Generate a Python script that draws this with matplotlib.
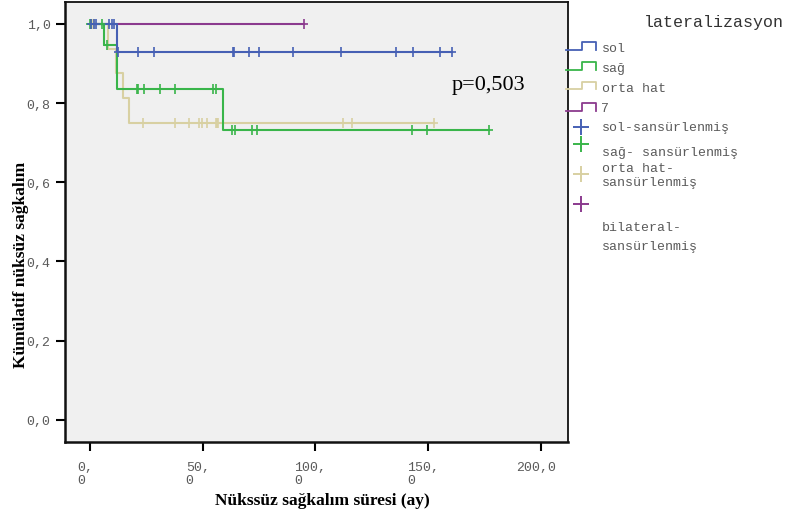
import numpy as np
import matplotlib
matplotlib.use('Agg')
import matplotlib.pyplot as plt
from matplotlib.path import Path
from matplotlib.transforms import ScaledTranslation

# Kaplan-Meier basamakları (zaman, kümülatif sağkalım) ve sansürlü gözlemler
sol_t = [0, 12.1]
sol_s = [1.0, 0.929]
sol_cens = [0.3, 1.8, 2.5, 8.4, 9.9, 10.6, 12.3, 21.2, 28.5, 63.3, 64.0, 70.5,
            75.0, 90.0, 111.5, 136.0, 143.5, 155.5, 160.5]

sag_t = [0, 6.2, 11.8, 59.2]
sag_s = [1.0, 0.947, 0.836, 0.731]
sag_cens = [0.0, 0.6, 5.2, 7.4, 20.7, 21.2, 23.8, 31.1, 37.6, 54.7, 56.0,
            63.1, 64.3, 72.0, 74.2, 142.7, 149.4, 177.0]

orta_t = [0, 7.8, 11.5, 14.5, 17.5]
orta_s = [1.0, 0.9375, 0.875, 0.8125, 0.75]
orta_cens = [1.5, 2.0, 23.4, 37.7, 44.0, 48.4, 49.6, 51.8, 55.9, 56.3, 56.9,
             112.1, 116.1, 152.8]

bil_t = [0]
bil_s = [1.0]
bil_cens = [95.0]

xticks = [0, 50, 100, 150, 200]
xtick_labels = ['0,\n0', '50,\n0', '100,\n0', '150,\n0', '200,0']
yticks = [0.0, 0.2, 0.4, 0.6, 0.8, 1.0]
ytick_labels = ['0,0', '0,2', '0,4', '0,6', '0,8', '1,0']

groups = [
    ('7', bil_t, bil_s, bil_cens, '#8b3a8e'),
    ('orta hat', orta_t, orta_s, orta_cens, '#d8d0a2'),
    ('sağ', sag_t, sag_s, sag_cens, '#39b54a'),
    ('sol', sol_t, sol_s, sol_cens, '#4660b4'),
]

mono = 'Liberation Mono'
serif = 'Liberation Serif'
tick_col = '#5a5a5a'

# dikey çizgisi uzun "+" sansür işareti
cross = Path([(-0.8, 0), (0.8, 0), (0, -1), (0, 1)],
             [Path.MOVETO, Path.LINETO, Path.MOVETO, Path.LINETO])

fig = plt.figure(figsize=(7.91, 5.10), dpi=100)
ax = fig.add_axes([64.5 / 791, 1 - 443 / 510, (568 - 64.5) / 791, (443 - 2.7) / 510])
ax.set_facecolor('#f0f0f0')

for name, t, s, cens, col in groups:
    end = max(cens)
    xs = list(t) + [end]
    ys = list(s) + [s[-1]]
    ax.step(xs, ys, where='post', color=col, lw=1.5, zorder=2)
    idx = np.searchsorted(t, cens, side='right') - 1
    cy = np.array(s)[idx]
    ax.plot(cens, cy, ls='none', marker=cross, ms=7.2, mew=1.2, color=col, zorder=3)

ax.text(160.5, 0.848, 'p=0,503', family=serif, fontsize=16, ha='left', va='center')

ax.set_xlim(-11.3, 212.1)
ax.set_ylim(-0.056, 1.056)
ax.set_xticks(xticks)
ax.set_xticklabels(xtick_labels, family=mono, fontsize=9.5, color=tick_col,
                   linespacing=1.1, multialignment='left')
ax.set_yticks(yticks)
ax.set_yticklabels(ytick_labels, family=mono, fontsize=9.5, color=tick_col)
ax.tick_params(axis='both', direction='out', length=6.5, width=1.5, color='black')
ax.tick_params(axis='x', pad=7)
ax.tick_params(axis='y', pad=3.5)
for lab in ax.get_xticklabels():
    lab.set_transform(lab.get_transform() + ScaledTranslation(-5 / 100, 0, fig.dpi_scale_trans))
for sp in ax.spines.values():
    sp.set_linewidth(1.3)
    sp.set_color('#111111')
ax.spines['left'].set_linewidth(1.8)
ax.spines['bottom'].set_linewidth(1.8)

fig.text(21 / 791, 1 - 265 / 510, 'Kümülatif nüksüz sağkalım', family=serif,
         fontweight='bold', fontsize=12.5, rotation=90, ha='center', va='center')
fig.text(322 / 791, 1 - 505 / 510, 'Nükssüz sağkalım süresi (ay)', family=serif,
         fontweight='bold', fontsize=12.5, ha='center', va='baseline')

# lejant: piksel koordinatlı şeffaf katman
lax = fig.add_axes([0, 0, 1, 1], zorder=5)
lax.set_xlim(0, 791)
lax.set_ylim(510, 0)
lax.axis('off')

lax.text(714, 22, 'lateralizasyon', family=mono, fontsize=12, color='#333333',
         ha='center', va='center')

leg_steps = [('sol', '#4660b4', 51, 42.5, 48.5),
             ('sağ', '#39b54a', 70.5, 62.5, 69),
             ('orta hat', '#d8d0a2', 89.5, 83, 89),
             ('7', '#8b3a8e', 111.5, 103.5, 108.5)]
for label, col, lo, hi, ty in leg_steps:
    lax.plot([566, 581.7, 581.7, 596, 596], [lo, lo, hi, hi, lo], color=col, lw=1.3)
    lax.text(601.5, ty, label, family=mono, fontsize=9.5, color=tick_col, va='center')

leg_cross = [('#4660b4', 128), ('#39b54a', 145), ('#d8d0a2', 175), ('#8b3a8e', 205)]
for col, y in leg_cross:
    lax.plot([580.7], [y], ls='none', marker='+', ms=11, mew=1.4, color=col)

leg_texts = [('sol-sansürlenmiş', 128), ('sağ- sansürlenmiş', 153),
             ('orta hat-', 169), ('sansürlenmiş', 183),
             ('bilateral-', 228), ('sansürlenmiş', 247)]
for txt, y in leg_texts:
    lax.text(601.5, y, txt, family=mono, fontsize=9.5, color=tick_col, va='center')

fig.savefig('out.png', dpi=100, facecolor='white')
